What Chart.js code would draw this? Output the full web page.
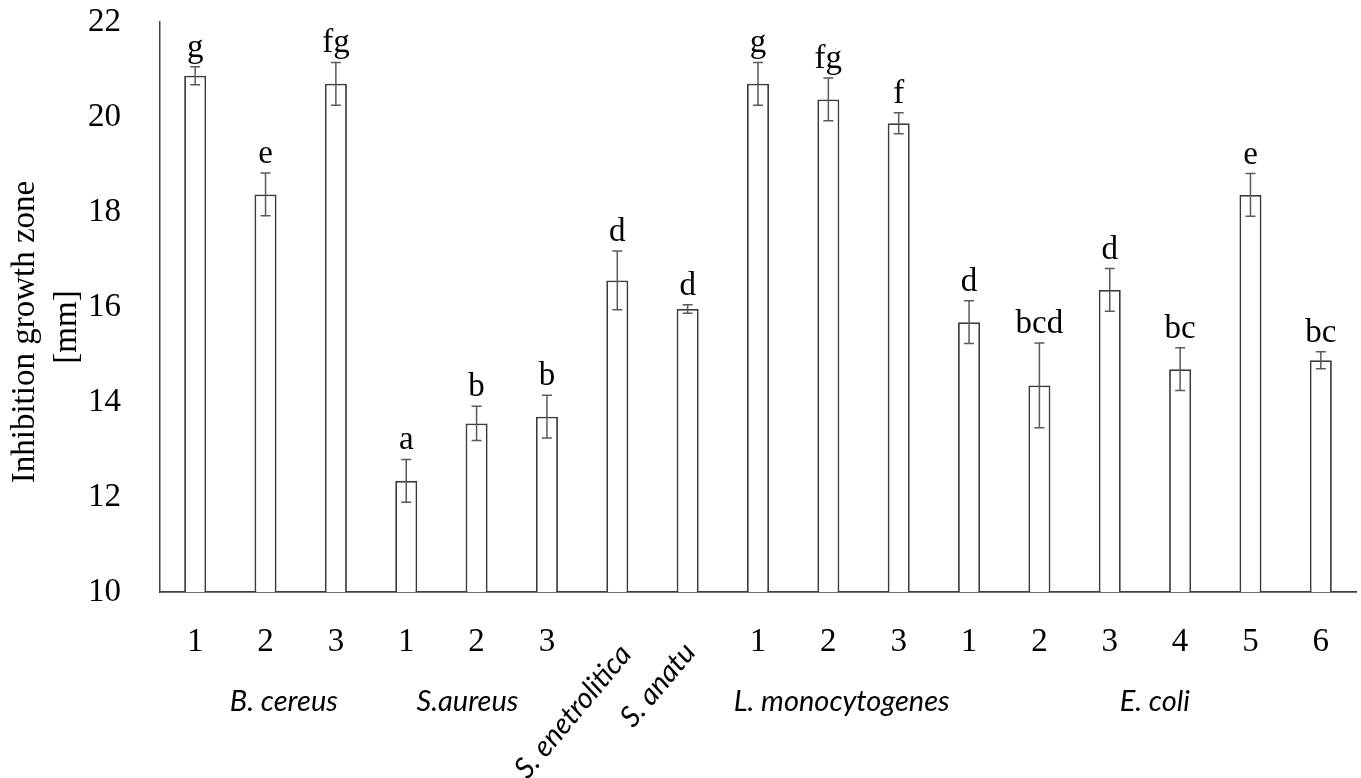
<!DOCTYPE html>
<html>
<head>
<meta charset="utf-8">
<script src="https://cdn.jsdelivr.net/npm/chart.js@4.4.1/dist/chart.umd.min.js"></script>
<style>
  body { margin: 0; background: #fff; }
  #wrap { width: 1361px; height: 778px; position: relative; }
</style>
</head>
<body>
<div id="wrap"><canvas id="myChart"></canvas></div>
<script>
// valores
const tickLabels = ['1', '2', '3', '1', '2', '3', '', '', '1', '2', '3', '1', '2', '3', '4', '5', '6'];
const zoneValues = [20.87, 18.37, 20.70, 12.34, 13.55, 13.69, 16.56, 15.96, 20.70, 20.37, 19.87, 15.68, 14.35, 16.36, 14.69, 18.36, 14.88];
const zoneErrors = [0.19, 0.45, 0.45, 0.45, 0.36, 0.45, 0.62, 0.09, 0.45, 0.45, 0.22, 0.45, 0.89, 0.45, 0.45, 0.45, 0.18];
const letters = ['g', 'e', 'fg', 'a', 'b', 'b', 'd', 'd', 'g', 'fg', 'f', 'd', 'bcd', 'd', 'bc', 'e', 'bc'];
const groupNames = ['B. cereus', 'S.aureus', 'L. monocytogenes', 'E. coli'];
const groupAt = [1.26, 3.87, 9.19, 13.64];
const rotatedNames = ['S. enetrolitica', 'S. anatu'];
const rotatedAt = [6.22, 7.13];
const yTicks = [10, 12, 14, 16, 18, 20, 22];

const serif = '"Liberation Serif", "Times New Roman", serif';
const sans = 'Lato, "Open Sans", sans-serif';

// barras de erro, letras e nomes dos grupos
const extrasPlugin = {
    id: 'extras',
    afterDatasetsDraw(chart) {
        const ctx = chart.ctx;
        const x = chart.scales.x;
        const y = chart.scales.y;
        const n = tickLabels.length;
        const idxPx = i => x.getPixelForDecimal((i + 0.5) / n);

        ctx.save();
        zoneValues.forEach((v, i) => {
            const cx = x.getPixelForValue(i);
            const top = y.getPixelForValue(v + zoneErrors[i]);
            const bot = y.getPixelForValue(v - zoneErrors[i]);
            ctx.strokeStyle = '#5a5a5a';
            ctx.lineWidth = 1.5;
            ctx.beginPath();
            ctx.moveTo(cx, top); ctx.lineTo(cx, bot);
            ctx.moveTo(cx - 5, top); ctx.lineTo(cx + 5, top);
            ctx.moveTo(cx - 5, bot); ctx.lineTo(cx + 5, bot);
            ctx.stroke();

            ctx.fillStyle = '#000';
            ctx.font = '33px ' + serif;
            ctx.textAlign = 'center';
            ctx.textBaseline = 'alphabetic';
            ctx.fillText(letters[i], cx, top - 10);
        });

        ctx.font = 'italic 29px ' + sans;
        ctx.fillStyle = '#000';
        ctx.textAlign = 'center';
        ctx.textBaseline = 'alphabetic';
        groupNames.forEach((name, k) => {
            ctx.fillText(name, idxPx(groupAt[k]), 711);
        });

        const rotY = [655, 653];
        rotatedNames.forEach((name, k) => {
            ctx.save();
            ctx.translate(idxPx(rotatedAt[k]), rotY[k]);
            ctx.rotate(-50 * Math.PI / 180);
            ctx.textAlign = 'right';
            ctx.fillText(name, 0, 0);
            ctx.restore();
        });

        // título do eixo y
        ctx.font = '33px ' + serif;
        ctx.fillStyle = '#000';
        ctx.textAlign = 'center';
        ctx.textBaseline = 'middle';
        ctx.save();
        ctx.translate(25, 332);
        ctx.rotate(-Math.PI / 2);
        ctx.fillText('Inhibition growth zone', 0, 0);
        ctx.restore();
        ctx.save();
        ctx.translate(67, 327);
        ctx.rotate(-Math.PI / 2);
        ctx.fillText('[mm]', 0, 0);
        ctx.restore();

        ctx.restore();
    }
};

const ctx = document.getElementById('myChart').getContext('2d');
new Chart(ctx, {
    type: 'bar',
    data: {
        labels: tickLabels,
        datasets: [{
            data: zoneValues,
            backgroundColor: '#ffffff',
            borderColor: '#3a3a3a',
            borderWidth: 1.8,
            barPercentage: 0.313,
            categoryPercentage: 1.0
        }]
    },
    options: {
        responsive: true,
        maintainAspectRatio: false,
        animation: false,
        layout: { padding: { top: 22, right: 5, left: 0, bottom: 0 } },
        plugins: {
            legend: { display: false },
            tooltip: { enabled: false }
        },
        scales: {
            x: {
                grid: { display: false },
                border: { display: true, color: '#404040', width: 1.8 },
                ticks: {
                    color: '#000',
                    font: { family: serif, size: 33 },
                    padding: 23,
                    maxRotation: 0,
                    autoSkip: false
                },
                afterFit: s => {
                    s.height = 186;
                    s.paddingLeft = 0;
                    s.paddingRight = 0;
                }
            },
            y: {
                min: 10,
                max: 22,
                grid: { display: false },
                border: { display: true, color: '#404040', width: 1.5 },
                ticks: {
                    color: '#000',
                    font: { family: serif, size: 33 },
                    padding: 31
                },
                afterBuildTicks: s => { s.ticks = yTicks.map(v => ({ value: v })); },
                afterFit: s => {
                    s.width = 160;
                    s.paddingTop = 0;
                    s.paddingBottom = 0;
                }
            }
        }
    },
    plugins: [extrasPlugin]
});
</script>
</body>
</html>
